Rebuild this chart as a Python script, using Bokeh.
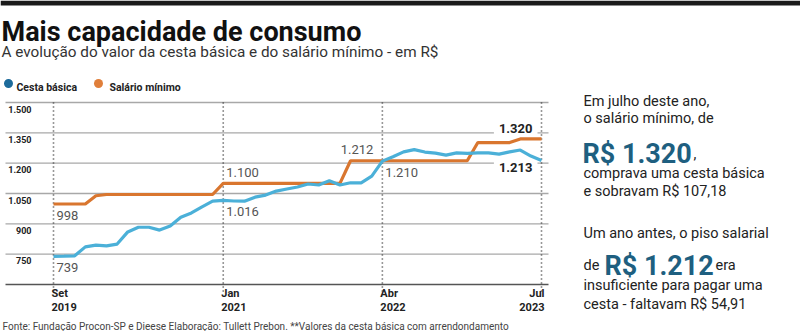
from bokeh.plotting import figure
from bokeh.models import Range1d, Label, BoxAnnotation
from bokeh.embed import file_html
from bokeh.resources import INLINE

# ---------------- data ----------------
# month index 0 = Set 2019 ... 46 = Jul 2023
months = list(range(47))
cesta = [739, 740, 742, 786, 795, 791, 800, 860, 883, 883, 869, 889,
         933, 954, 984, 1012, 1016, 1013, 1012, 1032, 1042, 1062, 1072, 1082,
         1097, 1092, 1113, 1092, 1103, 1103, 1136, 1210, 1232, 1256, 1267, 1255,
         1250, 1240, 1251, 1248, 1251, 1251, 1245, 1256, 1265, 1235, 1213]
salario = [998, 998, 998, 998, 1039, 1045, 1045, 1045, 1045, 1045, 1045, 1045,
           1045, 1045, 1045, 1045, 1100, 1100, 1100, 1100, 1100, 1100, 1100, 1100,
           1100, 1100, 1100, 1100, 1212, 1212, 1212, 1212, 1212, 1212, 1212, 1212,
           1212, 1212, 1212, 1212, 1302, 1302, 1302, 1302, 1320, 1320, 1320]
y_ticks = [750, 900, 1050, 1200, 1350, 1500]
y_tick_labels = ["750", "900", "1.050", "1.200", "1.350", "1.500"]
y_base = 600
x_ticks = [0, 16, 31, 46]
x_tick_month = ["Set", "Jan", "Abr", "Jul"]
x_tick_year = ["2019", "2021", "2022", "2023"]

FONT = "Roboto"
BLUE = "#4bb0d8"
ORANGE = "#d9762f"
DARK = "#222222"
TEAL = "#1e5f80"

W, H = 800, 331
# chart area in page pixels: first/last month and base/top value
X0PX, X1PX = 53, 541
YBPX, YTPX = 284, 102
PX = (X1PX - X0PX) / (x_ticks[-1] - x_ticks[0])
PY = (YBPX - YTPX) / (y_ticks[-1] - y_base)

def dx(cx):
    return x_ticks[0] + (cx - X0PX) / PX

def dy(cy):
    return y_base + (YBPX - cy) / PY

p = figure(width=W, height=H, output_backend="svg", toolbar_location=None,
           x_range=Range1d(dx(0), dx(W)), y_range=Range1d(dy(H), dy(0)),
           min_border=0, outline_line_color=None,
           background_fill_color="white", border_fill_color="white")
p.xaxis.visible = False
p.yaxis.visible = False
p.xgrid.visible = False
p.ygrid.visible = False

GL, GR = dx(5), dx(548)

# horizontal gridlines
p.segment(x0=[GL] * len(y_ticks), x1=[GR] * len(y_ticks), y0=y_ticks, y1=y_ticks,
          line_color="#a8a8a8", line_width=1.3)
# vertical dotted lines (drawn above the label backgrounds)
p.segment(x0=x_ticks, x1=x_ticks, y0=[dy(YBPX + 7)] * len(x_ticks),
          y1=[y_ticks[-1]] * len(x_ticks), line_color="#333333",
          line_width=1.6, line_dash="1 3", level="overlay")
# base axis line
p.segment(x0=[GL], x1=[GR], y0=[y_base], y1=[y_base], line_color="#555555",
          line_width=1.6)

# lines
p.line(months, salario, line_color=ORANGE, line_width=3.2, level="overlay")
p.line(months, cesta, line_color=BLUE, line_width=3.2, level="overlay")

def slabel(cx, cy, text, size, style="normal", color=DARK, align="left",
           baseline="alphabetic"):
    p.add_layout(Label(x=cx, y=H - cy, x_units="screen", y_units="screen",
                       text=text, text_align=align, text_baseline=baseline,
                       text_font=FONT, text_font_size=size,
                       text_font_style=style, text_color=color))

# y tick labels inside the plot, below gridlines
for v, t in zip(y_ticks, y_tick_labels):
    p.add_layout(Label(x=31, x_units="screen", y=v, y_units="data", text=t,
                       text_align="right", text_baseline="top", y_offset=-3,
                       text_font=FONT, text_font_style="bold",
                       text_font_size="9px", text_color=DARK))

# x tick labels
for i, (m, yr) in enumerate(zip(x_tick_month, x_tick_year)):
    last = i == len(x_ticks) - 1
    align = "right" if last else "left"
    off = 3 if last else -2
    for txt, cy in ((m, 293), (yr, 306)):
        p.add_layout(Label(x=x_ticks[i], y=H - cy, y_units="screen", text=txt,
                           text_align=align, text_baseline="middle", x_offset=off,
                           text_font=FONT, text_font_style="bold",
                           text_font_size="11px", text_color=DARK))

# value labels
def vlabel(idx, val, text, dyo, align="left", dxo=3, bold=False):
    p.add_layout(Label(x=idx, y=val, text=text, text_align=align,
                       text_baseline="middle", x_offset=dxo, y_offset=dyo,
                       text_font=FONT, text_font_size="13px",
                       text_font_style="bold" if bold else "normal",
                       text_color=DARK if bold else "#555555",
                       background_fill_color="white" if bold else None,
                       padding=5 if bold else 0))

vlabel(0, salario[0], "998", -11)
vlabel(0, cesta[0], "739", -11)
vlabel(16, salario[16], "1.100", 11)
vlabel(16, cesta[16], "1.016", -11)
vlabel(31, salario[31], "1.212", 11, align="right", dxo=-9)
vlabel(31, cesta[31], "1.210", -11)
vlabel(46, salario[46], "1.320", 10, align="right", dxo=-4, bold=True)
vlabel(46, cesta[46], "1.213", -7, align="right", dxo=-4, bold=True)

# top black bar
p.add_layout(BoxAnnotation(left=0, right=W, top=H, bottom=H - 5,
                           left_units="screen", right_units="screen",
                           top_units="screen", bottom_units="screen",
                           fill_color="#1a1a1a", fill_alpha=1, line_color=None))

# title / subtitle
slabel(1, 31, "Mais capacidade de consumo", "27px", "bold", "#111111")
slabel(1, 51, "A evolução do valor da cesta básica e do salário mínimo - em R$", "15.3px", "normal", "#333333")

# legend
p.scatter(x=[dx(8), dx(98)], y=[dy(83), dy(83)], size=9,
          fill_color=["#1d6b9b", "#e07f3a"], line_color=None)
slabel(16, 87, "Cesta básica", "10.5px", "bold", DARK)
slabel(109, 87, "Salário mínimo", "10.5px", "bold", DARK)

# right text block
slabel(583, 101, "Em julho deste ano,", "14.5px")
slabel(583, 118, "o salário mínimo, de", "14.5px")
slabel(582, 153, "R$ 1.320", "27px", "bold", TEAL)
slabel(693, 153, ",", "14.5px")
slabel(583, 173, "comprava uma cesta básica", "14.5px")
slabel(583, 191, "e sobravam R$ 107,18", "14.5px")
slabel(583, 233, "Um ano antes, o piso salarial", "14.5px")
slabel(583, 265, "de", "14.5px")
slabel(604, 265, "R$ 1.212", "27px", "bold", TEAL)
slabel(715, 265, "era", "14.5px")
slabel(583, 285, "insuficiente para pagar uma", "14.5px")
slabel(583, 304, "cesta - faltavam R$ 54,91", "14.5px")

# footer
slabel(2, 326, "Fonte: Fundação Procon-SP e Dieese Elaboração: Tullett Prebon. **Valores da cesta básica com arrendondamento", "10px", "normal", "#444444")

open("out.html", "w").write(file_html(p, INLINE))
